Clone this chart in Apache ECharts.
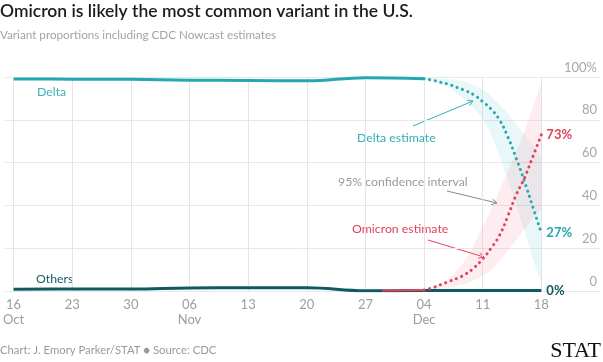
<!DOCTYPE html>
<html><head><meta charset="utf-8">
<script src="https://cdn.jsdelivr.net/npm/echarts@6/dist/echarts.min.js"></script>
<style>html,body{margin:0;padding:0;background:#fff}#c{width:603px;height:362px}</style>
</head><body><div id="c"></div>
<script>
// ---- data ----
const weekDates = ['2021-10-16','2021-10-23','2021-10-30','2021-11-06','2021-11-13','2021-11-20','2021-11-27','2021-12-04'];
const deltaObserved = [99.1, 99.0, 98.9, 98.5, 98.4, 98.2, 99.7, 99.2];
const othersDates = ['2021-10-16','2021-10-23','2021-10-30','2021-11-06','2021-11-13','2021-11-20','2021-11-27','2021-12-04','2021-12-11','2021-12-18'];
const othersObserved = [0.8, 0.9, 0.9, 1.4, 1.5, 1.5, 0.1, 0.2, 0.2, 0.2];
const omicronObsDates = ['2021-11-29','2021-12-04'];
const omicronObserved = [0.2, 0.5];
const estDates = ['2021-12-04','2021-12-05','2021-12-06','2021-12-07','2021-12-08','2021-12-09','2021-12-10','2021-12-11','2021-12-12','2021-12-13','2021-12-14','2021-12-15','2021-12-16','2021-12-17','2021-12-18'];
const deltaEstimate   = [99.2, 98.5, 97.5, 96.5, 95, 93.5, 91.5, 88.5, 85, 80, 72, 62, 51, 39, 27];
const deltaLow        = [99.2, 98, 96.5, 95, 92, 89, 85, 80, 73, 63, 52, 40, 28, 15, 4];
const deltaHigh       = [99.2, 99.5, 99.3, 99, 98.5, 97.5, 96, 94, 91, 87, 83, 78, 73, 68, 63];
const omicronEstimate = [0.5, 1.5, 3, 4.5, 6, 8, 11, 15, 20, 26, 35, 45, 53, 63, 73];
const omicronLow      = [0.5, 0.6, 1, 1.5, 2.5, 3.5, 5, 7, 10, 14, 19, 24, 29, 34, 38];
const omicronHigh     = [0.5, 2, 3.5, 6, 10, 15, 22, 30, 38, 47, 56, 65, 75, 86, 97];
const tickDates  = ['2021-10-16','2021-10-23','2021-10-30','2021-11-06','2021-11-13','2021-11-20','2021-11-27','2021-12-04','2021-12-11','2021-12-18'];
const tickLabels = ['16\nOct','23','30','06\nNov','13','20','27','04\nDec','11','18'];

// ---- axis categories: one per day ----
const days = [];
for (let i = 0; i < 72; i++) {
  const d = new Date(Date.UTC(2021, 9, 15 + i));
  days.push(d.toISOString().slice(0, 10));
}
const pairs = (dates, vals) => dates.map((d, i) => [d, vals[i]]);
const diff = (hi, lo) => hi.map((v, i) => +(v - lo[i]).toFixed(2));
const isTick = (i, v) => tickDates.indexOf(v) >= 0;

const TEAL = '#25a7ae', DARK = '#0e5a61', RED = '#e0435a';
const FONT = 'Lato';

const chart = echarts.init(document.getElementById('c'), null, {renderer: 'canvas'});

function arrow(x1, y1, x2, y2, color) {
  const a = Math.atan2(y2 - y1, x2 - x1), L = 6, s = 0.5;
  const p1 = [x2 - L * Math.cos(a - s), y2 - L * Math.sin(a - s)];
  const p2 = [x2 - L * Math.cos(a + s), y2 - L * Math.sin(a + s)];
  return [
    {type: 'line', shape: {x1, y1, x2, y2}, style: {stroke: color, lineWidth: 1}},
    {type: 'polyline', shape: {points: [p1, [x2, y2], p2]}, style: {stroke: color, lineWidth: 1, fill: null}}
  ];
}
const txt = (text, x, y, color) => ({type: 'text', x, y, style: {text, fill: color, font: '12.3px ' + FONT, textVerticalAlign: 'middle'}});

const dotted = {type: [0.1, 5.6], cap: 'round'};

chart.setOption({
  animation: false,
  grid: {left: 2, right: 3, top: 77, bottom: 71},
  title: [
    {text: 'Omicron is likely the most common variant in the U.S.', left: -5, top: -3, textStyle: {fontFamily: FONT, fontSize: 17.5, fontWeight: 600, color: '#1c1c1c'}},
    {text: 'Variant proportions including CDC Nowcast estimates', left: -5, top: 24, textStyle: {fontFamily: FONT, fontSize: 11.7, fontWeight: 'normal', color: '#a3a3a3'}},
    {text: 'Chart: J. Emory Parker/STAT \u25CF Source: CDC', left: -5, top: 340, textStyle: {fontFamily: FONT, fontSize: 11.3, fontWeight: 'normal', color: '#9a9a9a'}}
  ],
  xAxis: {
    type: 'category', data: days, boundaryGap: false,
    axisLine: {show: false}, axisTick: {show: false},
    axisLabel: {interval: isTick, formatter: v => tickLabels[tickDates.indexOf(v)] || '', color: '#9d9d9d', fontFamily: FONT, fontSize: 13, lineHeight: 15, margin: 6},
    splitLine: {show: true, interval: isTick, lineStyle: {color: '#e6e4ea', width: 1}}
  },
  yAxis: {
    type: 'value', min: 0, max: 100, interval: 20, position: 'right',
    axisLine: {show: false}, axisTick: {show: false},
    axisLabel: {inside: true, margin: 3, verticalAlign: 'bottom', align: 'right', padding: [0, 0, 3, 0], color: '#a8a8a8', fontFamily: FONT, fontSize: 13, formatter: v => v === 100 ? '100%' : String(v)},
    splitLine: {lineStyle: {color: '#e8e7ec', width: 1}}
  },
  series: [
    {name: 'dLow', type: 'line', stack: 'dci', data: pairs(estDates, deltaLow), smooth: true, symbol: 'none', lineStyle: {opacity: 0}, silent: true, z: 1},
    {name: 'dBand', type: 'line', stack: 'dci', data: pairs(estDates, diff(deltaHigh, deltaLow)), smooth: true, symbol: 'none', lineStyle: {opacity: 0}, areaStyle: {color: 'rgba(110,205,210,0.22)'}, silent: true, z: 1},
    {name: 'oLow', type: 'line', stack: 'oci', data: pairs(estDates, omicronLow), smooth: true, symbol: 'none', lineStyle: {opacity: 0}, silent: true, z: 1},
    {name: 'oBand', type: 'line', stack: 'oci', data: pairs(estDates, diff(omicronHigh, omicronLow)), smooth: true, symbol: 'none', lineStyle: {opacity: 0}, areaStyle: {color: 'rgba(245,140,155,0.22)'}, silent: true, z: 1},
    {name: 'Delta', type: 'line', data: pairs(weekDates, deltaObserved), smooth: 0.4, symbol: 'none', lineStyle: {color: TEAL, width: 3}, z: 3},
    {name: 'Others', type: 'line', data: pairs(othersDates, othersObserved), smooth: 0.4, symbol: 'none', lineStyle: {color: DARK, width: 3}, z: 3,
      endLabel: {show: true, formatter: '0%', color: DARK, fontWeight: 'bold', fontFamily: FONT, fontSize: 13, distance: 5}},
    {name: 'Omicron', type: 'line', data: pairs(omicronObsDates, omicronObserved), smooth: true, symbol: 'none', lineStyle: {color: RED, width: 2}, z: 4},
    {name: 'Delta estimate', type: 'line', data: pairs(estDates, deltaEstimate), smooth: true, symbol: 'none', lineStyle: Object.assign({color: TEAL, width: 3}, dotted), z: 5,
      endLabel: {show: true, formatter: '27%', color: TEAL, fontWeight: 'bold', fontFamily: FONT, fontSize: 13, distance: 5}},
    {name: 'Omicron estimate', type: 'line', data: pairs(estDates, omicronEstimate), smooth: true, symbol: 'none', lineStyle: Object.assign({color: RED, width: 3}, dotted), z: 5,
      endLabel: {show: true, formatter: '73%', color: RED, fontWeight: 'bold', fontFamily: FONT, fontSize: 13, distance: 5}}
  ],
  graphic: [
    txt('Delta', 37, 92, '#3ab3b8'),
    txt('Others', 36, 279, '#14606a'),
    txt('Delta estimate', 357, 138, '#2fb0b5'),
    txt('95% confidence interval', 338, 182, '#9a9a9a'),
    txt('Omicron estimate', 352, 229, RED),
    ...arrow(413, 126, 473, 101, '#2fb0b5'),
    ...arrow(447, 191, 497, 203, '#8a8a8a'),
    ...arrow(428, 240, 484, 257, RED),
    {type: 'text', right: 2, top: 340, style: {text: 'STAT', fill: '#111', font: '22px "Liberation Serif"'}}
  ]
});
</script></body></html>
